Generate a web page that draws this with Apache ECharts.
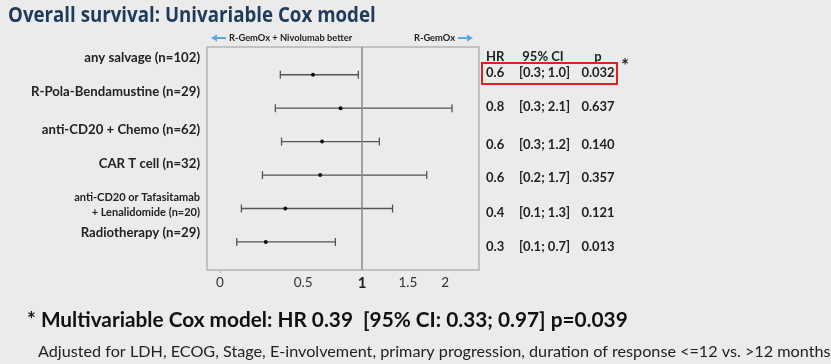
<!DOCTYPE html>
<html><head><meta charset="utf-8">
<script src="https://cdn.jsdelivr.net/npm/echarts@6/dist/echarts.min.js"></script>
<style>html,body{margin:0;padding:0;background:#ebebeb;}#c{width:831px;height:364px;}</style>
</head><body><div id="c"></div>
<script>
// ---- data ----
const rowLabels = ['any salvage (n=102)', 'R-Pola-Bendamustine (n=29)', 'anti-CD20 + Chemo (n=62)', 'CAR T cell (n=32)', 'anti-CD20 or Tafasitamab\n+ Lenalidomide (n=20)', 'Radiotherapy (n=29)'];
const hrPoint = [0.574, 0.80, 0.645, 0.63, 0.375, 0.25];
const ciLower = [0.342, 0.31, 0.35, 0.23, 0.11, 0.085];
const ciUpper = [0.963, 2.10, 1.175, 1.74, 1.32, 0.755];
const tableHR = ['0.6', '0.8', '0.6', '0.6', '0.4', '0.3'];
const tableCI = ['[0.3; 1.0]', '[0.3; 2.1]', '[0.3; 1.2]', '[0.2; 1.7]', '[0.1; 1.3]', '[0.1; 0.7]'];
const tableP = ['0.032', '0.637', '0.140', '0.357', '0.121', '0.013'];
const xTicks = [0, 0.5, 1, 1.5, 2];
const refValue = 1;

const f = v => Math.log(1 + v);
const chart = echarts.init(document.getElementById('c'), null, {renderer: 'canvas'});
const ciData = hrPoint.map((h, i) => [f(ciLower[i]), f(ciUpper[i]), f(h), i]);

const FONT = 'Lato';
const labelY = [58, 92, 130, 164, 205, 233];
const tableY = [73, 107, 145, 178, 212.5, 246.5];
const graphics = [];
// title
graphics.push({type: 'text', x: 8, y: 15.5, scaleX: 0.87, style: {text: 'Overall survival: Univariable Cox model', font: 'bold 21.5px "Open Sans"', fill: '#1f3b5c', verticalAlign: 'middle'}});
// row labels
rowLabels.forEach((t, i) => {
  const two = t.indexOf('\n') >= 0;
  graphics.push({type: 'text', x: 200, y: labelY[i], style: {text: t, font: two ? 'bold 11px ' + FONT : 'bold 13.2px ' + FONT, fill: '#222', align: 'right', verticalAlign: 'middle', lineHeight: two ? 15 : 16}});
});
// table header
graphics.push({type: 'text', x: 486, y: 57, style: {text: 'HR', font: 'bold 13px ' + FONT, fill: '#222', verticalAlign: 'middle'}});
graphics.push({type: 'text', x: 543, y: 57, style: {text: '95% CI', font: 'bold 13px ' + FONT, fill: '#222', align: 'center', verticalAlign: 'middle'}});
graphics.push({type: 'text', x: 598, y: 57, style: {text: 'p', font: 'bold 13px ' + FONT, fill: '#222', align: 'center', verticalAlign: 'middle'}});
tableHR.forEach((t, i) => {
  graphics.push({type: 'text', x: 486, y: tableY[i], style: {text: t, font: 'bold 13px ' + FONT, fill: '#222', verticalAlign: 'middle'}});
  graphics.push({type: 'text', x: 544.5, y: tableY[i], style: {text: tableCI[i], font: 'bold 13px ' + FONT, fill: '#222', align: 'center', verticalAlign: 'middle'}});
  graphics.push({type: 'text', x: 598, y: tableY[i], style: {text: tableP[i], font: 'bold 13px ' + FONT, fill: '#222', align: 'center', verticalAlign: 'middle'}});
});
// red box + asterisk
graphics.push({type: 'rect', shape: {x: 482, y: 63, width: 135, height: 21}, style: {fill: 'none', stroke: '#e02020', lineWidth: 2}});
graphics.push({type: 'text', x: 625, y: 66, style: {text: '*', font: 'bold 18px ' + FONT, fill: '#222', align: 'center', verticalAlign: 'middle'}});
// arrows
function arrow(x1, x2, y) {
  const dir = x2 > x1 ? 1 : -1;
  graphics.push({type: 'line', shape: {x1: x1, y1: y, x2: x2 - dir * 4, y2: y}, style: {stroke: '#55aaea', lineWidth: 2}});
  graphics.push({type: 'polygon', shape: {points: [[x2, y], [x2 - dir * 6, y - 3.5], [x2 - dir * 6, y + 3.5]]}, style: {fill: '#55aaea'}});
}
arrow(226, 211, 38);
arrow(458, 473, 38);
graphics.push({type: 'text', x: 229, y: 38, style: {text: 'R-GemOx + Nivolumab better', font: 'bold 9.3px ' + FONT, fill: '#222', verticalAlign: 'middle'}});
graphics.push({type: 'text', x: 455, y: 38, style: {text: 'R-GemOx', font: 'bold 9.3px ' + FONT, fill: '#222', align: 'right', verticalAlign: 'middle'}});
// bottom texts
graphics.push({type: 'text', x: 27, y: 320, style: {text: '* Multivariable Cox model: HR 0.39  [95% CI: 0.33; 0.97] p=0.039', font: 'bold 20.8px ' + FONT, fill: '#111', verticalAlign: 'middle'}});
graphics.push({type: 'text', x: 38, y: 352, style: {text: 'Adjusted for LDH, ECOG, Stage, E-involvement, primary progression, duration of response <=12 vs. >12 months', font: '16.2px ' + FONT, fill: '#222', verticalAlign: 'middle'}});

chart.setOption({
  backgroundColor: '#ebebeb',
  animation: false,
  grid: {left: 207, right: 352, top: 47, bottom: 94, show: true, borderColor: '#b5b5b5', borderWidth: 1.5, backgroundColor: 'transparent'},
  xAxis: {
    type: 'value', min: -0.0634, max: 1.263,
    splitLine: {show: false},
    axisLine: {show: false, onZero: false},
    axisTick: {show: true, customValues: [f(0)], length: 3, lineStyle: {color: '#b5b5b5'}},
    axisLabel: {
      customValues: xTicks.map(f), margin: 6,
      formatter: v => {
        const x = Math.round((Math.exp(v) - 1) * 10) / 10;
        return x === refValue ? '{b|' + x + '}' : '{n|' + x + '}';
      },
      rich: {n: {fontFamily: FONT, fontSize: 13.5, color: '#333'}, b: {fontFamily: FONT, fontSize: 15, fontWeight: 'bold', color: '#222'}}
    }
  },
  yAxis: {type: 'value', inverse: true, min: -0.83, max: 5.84, show: false},
  series: [{
    type: 'custom',
    data: ciData,
    encode: {x: [0, 1, 2], y: 3},
    renderItem: (params, api) => {
      const y = api.value(3);
      const a = api.coord([api.value(0), y]);
      const b = api.coord([api.value(1), y]);
      const c = api.coord([api.value(2), y]);
      const st = {stroke: '#555', lineWidth: 1.3};
      return {type: 'group', children: [
        {type: 'line', shape: {x1: a[0], y1: a[1], x2: b[0], y2: b[1]}, style: st},
        {type: 'line', shape: {x1: a[0], y1: a[1] - 4, x2: a[0], y2: a[1] + 4}, style: st},
        {type: 'line', shape: {x1: b[0], y1: b[1] - 4, x2: b[0], y2: b[1] + 4}, style: st},
        {type: 'circle', shape: {cx: c[0], cy: c[1], r: 2}, style: {fill: '#111'}}
      ]};
    },
    markLine: {silent: true, symbol: 'none', label: {show: false}, lineStyle: {color: '#888', width: 1.5, type: 'solid'}, data: [{xAxis: f(refValue)}]}
  }],
  graphic: graphics
});
</script></body></html>
